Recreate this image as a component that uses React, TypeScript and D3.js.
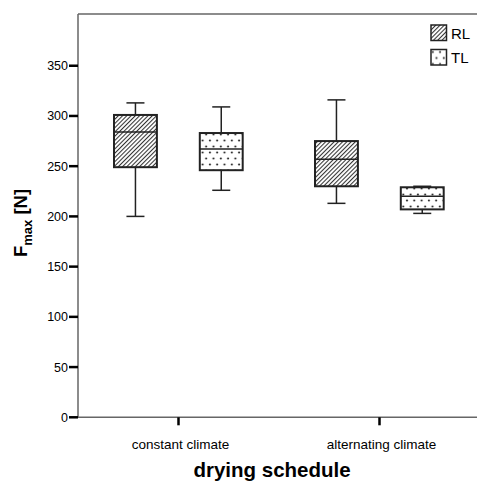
import React from "react";
import * as d3 from "d3";

const groups = ["constant climate", "alternating climate"];
const series = ["RL", "TL"];
// box stats per series, one value per group
const whiskerLow = { RL: [200, 213], TL: [226, 203] };
const q1 = { RL: [249, 230], TL: [246, 207] };
const median = { RL: [284, 257], TL: [267, 220] };
const q3 = { RL: [301, 275], TL: [283, 229] };
const whiskerHigh = { RL: [313, 316], TL: [309, 230] };
const yTicks = [0, 50, 100, 150, 200, 250, 300, 350];

const W = 477;
const H = 481;
const left = 78;
const top = 14;
const bottom = 417.3;

export default function App() {
  const x = d3.scaleBand().domain(groups).range([left, 480]).padding(0);
  const sub = d3.scaleBand().domain(series).range([36, 164.7]).paddingInner(0.5).paddingOuter(0);
  const y = d3.scaleLinear().domain([0, 401.5]).range([bottom, top]);
  const bw = sub.bandwidth();
  const font = "Liberation Sans, Arial, sans-serif";

  const boxes = series.flatMap((s) =>
    groups.map((g, i) => ({
      s,
      g,
      lo: whiskerLow[s][i],
      q1: q1[s][i],
      med: median[s][i],
      q3: q3[s][i],
      hi: whiskerHigh[s][i],
    }))
  );

  return (
    <svg width={W} height={H} style={{ position: "absolute", left: 0, top: 0 }}>
      <defs>
        <pattern id="hatch" patternUnits="userSpaceOnUse" width={3} height={6} patternTransform="rotate(45)">
          <rect width={3} height={6} fill="#fff" />
          <line x1={0.5} y1={0} x2={0.5} y2={6} stroke="#333" strokeWidth={1.1} />
        </pattern>
        <pattern id="dots" patternUnits="userSpaceOnUse" width={7.3} height={12}>
          <rect width={7.3} height={12} fill="#fff" />
          <circle cx={1.8} cy={2.5} r={1.1} fill="#333" />
          <circle cx={5.5} cy={8.5} r={1.1} fill="#333" />
        </pattern>
      </defs>
      <rect width={W} height={H} fill="#fff" />

      {/* frame */}
      <line x1={left} x2={W} y1={top} y2={top} stroke="#666" strokeWidth={1.5} />
      <line x1={left} x2={left} y1={top} y2={bottom} stroke="#666" strokeWidth={1.5} />
      <line x1={left} x2={W} y1={bottom} y2={bottom} stroke="#666" strokeWidth={1.5} />

      {/* y axis */}
      {yTicks.map((t) => (
        <g key={t} transform={`translate(0,${y(t)})`}>
          <line x1={left - 9} x2={left} stroke="#000" strokeWidth={2.5} />
          <text x={left - 10} dy="0.36em" textAnchor="end" fontFamily={font} fontSize={12.5} fill="#000">
            {t}
          </text>
        </g>
      ))}

      {/* x axis */}
      {groups.map((g) => {
        const cx = x(g)! + x.bandwidth() / 2;
        return (
          <g key={g}>
            <line x1={cx} x2={cx} y1={bottom} y2={bottom + 8} stroke="#000" strokeWidth={2.5} />
            <text x={cx + 2} y={449} textAnchor="middle" fontFamily={font} fontSize={13.5} fill="#000">
              {g}
            </text>
          </g>
        );
      })}

      {/* boxes */}
      {boxes.map((b) => {
        const bx = x(b.g)! + sub(b.s)!;
        const cx = bx + bw / 2;
        const cap = bw * 0.21;
        return (
          <g key={b.s + b.g}>
            <line x1={cx} x2={cx} y1={y(b.hi)} y2={y(b.q3)} stroke="#222" strokeWidth={1.5} />
            <line x1={cx} x2={cx} y1={y(b.q1)} y2={y(b.lo)} stroke="#222" strokeWidth={1.5} />
            <line x1={cx - cap} x2={cx + cap} y1={y(b.hi)} y2={y(b.hi)} stroke="#222" strokeWidth={1.5} />
            <line x1={cx - cap} x2={cx + cap} y1={y(b.lo)} y2={y(b.lo)} stroke="#222" strokeWidth={1.5} />
            <rect
              x={bx}
              y={y(b.q3)}
              width={bw}
              height={y(b.q1) - y(b.q3)}
              fill={b.s === "RL" ? "url(#hatch)" : "url(#dots)"}
              stroke="#222"
              strokeWidth={2}
            />
            <line x1={bx} x2={bx + bw} y1={y(b.med)} y2={y(b.med)} stroke="#222" strokeWidth={1.5} />
          </g>
        );
      })}

      {/* legend */}
      {series.map((s, i) => (
        <g key={s} transform={`translate(431,${25 + i * 24.5})`}>
          <rect width={15.5} height={15.5} fill={s === "RL" ? "url(#hatch)" : "url(#dots)"} stroke="#222" strokeWidth={1.5} />
          <text x={20} y={13.5} fontFamily={font} fontSize={15} fill="#000">
            {s}
          </text>
        </g>
      ))}

      {/* titles */}
      <text
        transform={`translate(27,223) rotate(-90)`}
        textAnchor="middle"
        fontFamily={font}
        fontSize={18.5}
        fontWeight="bold"
        fill="#000"
      >
        F<tspan fontSize={13} dy={5}>max</tspan>
        <tspan dy={-5}> [N]</tspan>
      </text>
      <text x={272} y={476.5} textAnchor="middle" fontFamily={font} fontSize={20.5} fontWeight="bold" fill="#000">
        drying schedule
      </text>
    </svg>
  );
}
